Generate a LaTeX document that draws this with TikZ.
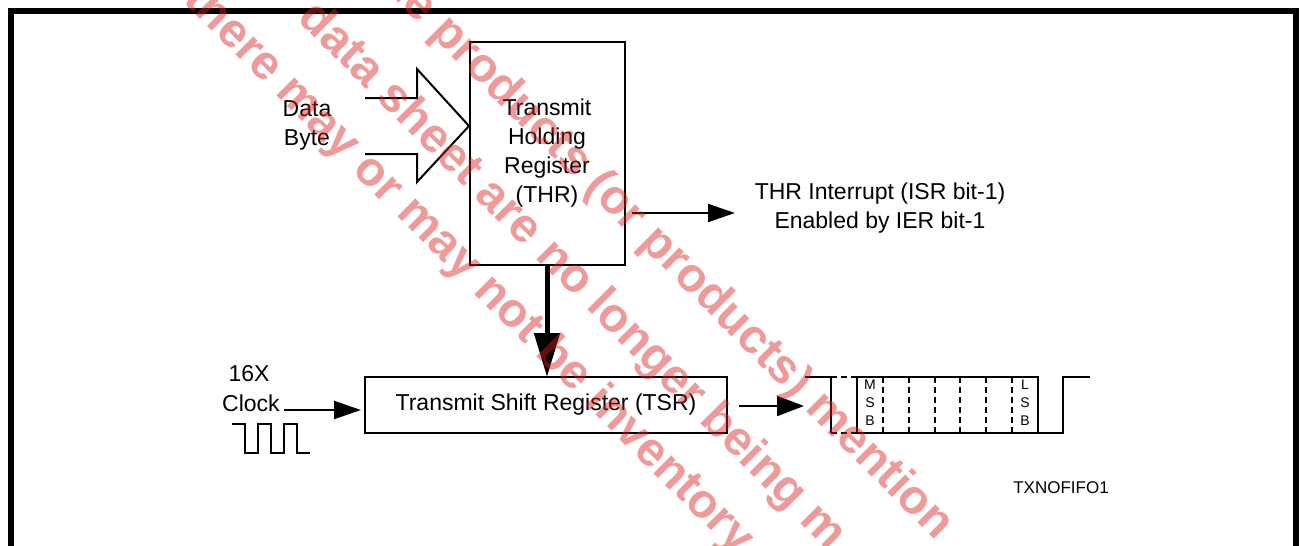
\documentclass[tikz,border=0pt]{standalone}
\usepackage{fontspec}
\setmainfont{Liberation Sans}
\usetikzlibrary{arrows.meta}
\definecolor{wmred}{RGB}{220,30,30}
\begin{document}
\begin{tikzpicture}[x=1pt,y=-1pt,
  every node/.style={inner sep=0pt, outer sep=0pt},
  lbl/.style={font=\fontsize{23}{29}\selectfont, align=center},
  regbox/.style={draw, line width=2pt},
  thin/.style={line width=2pt},
  arr/.style={line width=2pt, -{Triangle[length=27pt,width=18pt]}},
  bigarr/.style={line width=5pt, -{Triangle[length=44pt,width=25pt]}},
  dsh/.style={line width=2pt, dash pattern=on 6pt off 4pt},
  small/.style={font=\fontsize{14}{18}\selectfont, align=center},
  wm/.style={font=\fontsize{48}{56}\selectfont\bfseries, text=wmred, text opacity=0.45, rotate=-45, anchor=mid west}]
\useasboundingbox (0,0) rectangle (1301,546);
\fill[white] (0,0) rectangle (1301,546);
\draw[line width=6pt] (11.3,11) rectangle (1296,549);

% registers
\node[regbox, lbl, minimum width=155pt, minimum height=223pt] (thr) at (547,153.5) {Transmit\\Holding\\Register\\(THR)};
\node[regbox, lbl, minimum width=362pt, minimum height=56pt] (tsr) at (546,405) {Transmit Shift Register (TSR)};

% labels
\node[lbl] (data) at (307,125) {Data\\Byte};
\node[lbl] (intr) at (880,208) {THR Interrupt (ISR bit-1)\\Enabled by IER bit-1};
\node[lbl] (x16) at (249,374) {16X};
\node[lbl] (clk) at (251,403) {Clock};
\node[font=\fontsize{17}{20}\selectfont] (tag) at (1061,488) {TXNOFIFO1};

% data byte hollow arrow
\coordinate (dtip) at (469,126);
\draw[thin, line join=miter] (365,98) -- (417,98) -- (417,69) -- (dtip) -- (417,182) -- (417,154) -- (365,154);

% connectors
\coordinate (i1) at (632,213);
\coordinate (i2) at (735,213);
\draw[arr] (i1) -- (i2);
\draw[bigarr] (thr.south) -- (thr.south |- tsr.north);
\coordinate (c1) at (284,410);
\coordinate (c2) at (361,410);
\draw[arr] (c1) -- (c2);
\coordinate (o1) at (739,406);
\coordinate (o2) at (804,406);
\draw[line width=2pt, -{Triangle[length=27pt,width=20pt]}] (o1) -- (o2);

% clock waveform
\draw[thin] (232,424) -- (245,424) -- (245,453) -- (258,453) -- (258,424) -- (270.5,424) -- (270.5,453) -- (284,453) -- (284,424) -- (297,424) -- (297,453) -- (310,453);

% serial waveform
\draw[thin] (805,377) -- (831,377) -- (831,433);
\draw[dsh] (831,377) -- (857,377);
\draw[dsh] (831,433) -- (857,433);
\draw[thin] (857,377) rectangle (1038,433);
\foreach \k in {1,...,6} {
  \draw[dsh] ({857+25.86*\k},377) -- ({857+25.86*\k},433);
}
\draw[thin] (1038,433) -- (1063,433) -- (1063,377) -- (1090,377);
\node[small] (msb) at (870,403) {M\\S\\B};
\node[small] (lsb) at (1025,403) {L\\S\\B};

% watermark
\begin{scope}
\clip (0,0) rectangle (1301,546);
\node[wm] (wm1) at (382,-17) {he products (or products) mention};
\node[wm] (wm2) at (298.5,17.5) {data sheet are no longer being m};
\node[wm] (wm3) at (184,-0.3) {there may or may not be inventory};
\end{scope}
\end{tikzpicture}
\end{document}
